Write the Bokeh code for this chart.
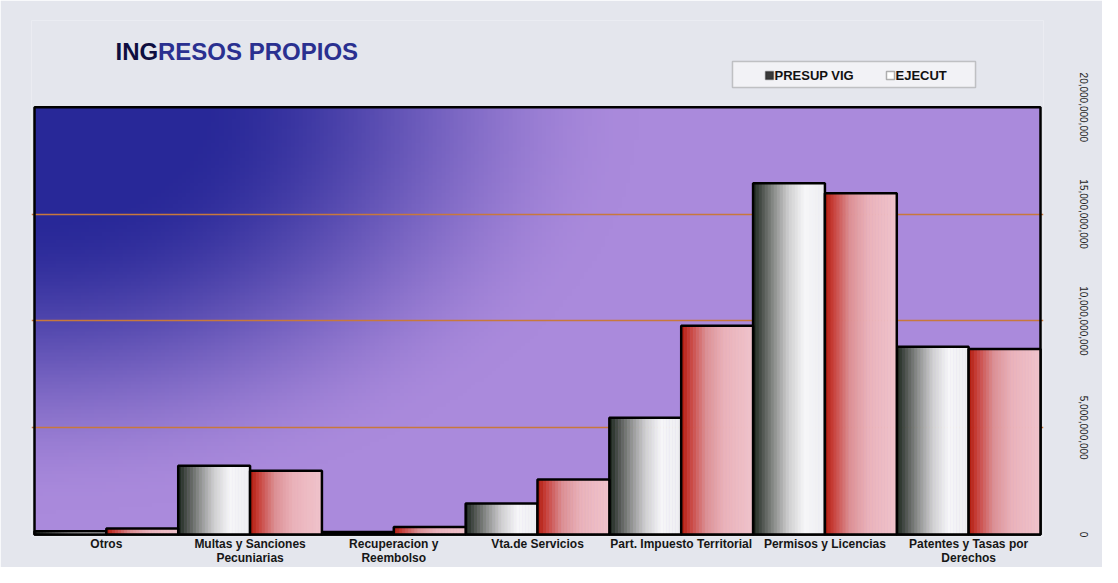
import numpy as np
from bokeh.plotting import figure
from bokeh.models import (FixedTicker, Label, BoxAnnotation,
                          ColumnDataSource, NumeralTickFormatter, Range1d)
from bokeh.embed import file_html
from bokeh.resources import INLINE

# ---------------- data ----------------
categories = ["Otros", "Multas y Sanciones\nPecuniarias", "Recuperacion y\nReembolso",
              "Vta.de Servicios", "Part. Impuesto Territorial", "Permisos y Licencias",
              "Patentes y Tasas por\nDerechos"]
presup_vig = [150e6, 3.22e9, 120e6, 1.45e9, 5.47e9, 16.45e9, 8.79e9]
ejecut = [280e6, 2.99e9, 350e6, 2.57e9, 9.77e9, 15.98e9, 8.69e9]
series_names = ["PRESUP VIG", "EJECUT"]
y_ticks = [0, 5e9, 10e9, 15e9, 20e9]
grid_ticks = [5e9, 10e9, 15e9]
title_a = "ING"
title_b = "RESOS PROPIOS"

# ---------------- layout (canvas px) ----------------
W, H = 1102, 567
BOX_L, BOX_R, BOX_T, BOX_B = 34, 1040, 107, 535   # visible plot box
PAD = 3
FR_L, FR_R, FR_T, FR_B = BOX_L - PAD, BOX_R + PAD, 20, BOX_B + 2  # bokeh frame

Y_MAX = 20e9
n = len(categories)
xpp = n / (BOX_R - BOX_L)          # data units per px (x)
ypp = Y_MAX / (BOX_B - BOX_T)      # data units per px (y)
x_lo, x_hi = -0.5, n - 0.5

p = figure(width=W, height=H, output_backend="svg", toolbar_location=None,
           x_range=Range1d(x_lo - PAD * xpp, x_hi + PAD * xpp),
           y_range=Range1d(-(FR_B - BOX_B) * ypp, Y_MAX + (BOX_T - FR_T) * ypp),
           y_axis_location="right",
           min_border_left=FR_L, min_border_right=W - FR_R,
           min_border_top=FR_T, min_border_bottom=H - FR_B)
marble = "#e4e6ed"
p.border_fill_color = marble
p.background_fill_color = marble
p.outline_line_color = None

# gradient background in the plot box (dark blue top-left -> lavender)
ny, nx = 120, 240
u = np.linspace(0, 1, nx)[None, :]
v = np.linspace(0, 1, ny)[:, None]
d = np.sqrt((u / 0.6) ** 2 + ((1 - v) / 0.95) ** 2)
t = np.clip((d - 0.25) / 0.75, 0, 1)
t = t * t * (3 - 2 * t)
dark = np.array([40, 40, 152.0])
light = np.array([170, 138, 220.0])
rgb = dark[None, None, :] + (light - dark)[None, None, :] * t[..., None]
img = np.empty((ny, nx), dtype=np.uint32)
view = img.view(dtype=np.uint8).reshape((ny, nx, 4))
view[..., :3] = rgb.astype(np.uint8)
view[..., 3] = 255
p.image_rgba(image=[img], x=x_lo, y=0, dw=x_hi - x_lo, dh=Y_MAX, level="image")

# grid
p.xgrid.visible = False
p.ygrid.ticker = FixedTicker(ticks=grid_ticks)
p.ygrid.grid_line_color = "#c8783c"
p.ygrid.grid_line_width = 1.3

# plot box outline
p.quad(left=x_lo, right=x_hi, bottom=0, top=Y_MAX, fill_color=None,
       line_color="black", line_width=2.5)

# ---------------- bars with horizontal shading ----------------
def hex2rgb(h):
    h = h.lstrip("#")
    return np.array([int(h[i:i + 2], 16) for i in (0, 2, 4)], dtype=float)

def interp(stops, tt):
    ts = [s[0] for s in stops]
    cs = [hex2rgb(s[1]) for s in stops]
    for j in range(len(ts) - 1):
        if ts[j] <= tt <= ts[j + 1]:
            f = (tt - ts[j]) / (ts[j + 1] - ts[j])
            c = cs[j] + (cs[j + 1] - cs[j]) * f
            return "#%02x%02x%02x" % tuple(int(round(x)) for x in c)
    return "#%02x%02x%02x" % tuple(int(x) for x in cs[-1])

grey_stops = [(0.0, "#18241a"), (0.12, "#4a504a"), (0.3, "#8e908e"), (0.5, "#cfcfd0"),
              (0.72, "#f6f6f8"), (1.0, "#eeeef2")]
red_stops = [(0.0, "#b01808"), (0.12, "#c8403a"), (0.35, "#dc9094"), (0.6, "#eab2ba"),
             (1.0, "#f0c4cc")]

BW = 0.5
NS = 24

def strip_source(vals, offset, stops):
    xs, tops, cols = [], [], []
    for i, val in enumerate(vals):
        for k in range(NS):
            tt = (k + 0.5) / NS
            xs.append(i + offset - BW / 2 + (k + 0.5) * BW / NS)
            tops.append(val)
            cols.append(interp(stops, tt))
    return ColumnDataSource(dict(x=xs, top=tops, c=cols))

for vals, off, stops in [(presup_vig, -0.25, grey_stops), (ejecut, 0.25, red_stops)]:
    src = strip_source(vals, off, stops)
    p.vbar(x="x", top="top", bottom=0, width=BW / NS * 1.02, source=src,
           fill_color="c", line_color="c", line_width=0.6)
    p.vbar(x=[i + off for i in range(n)], top=vals, bottom=0, width=BW,
           fill_color=None, line_color="black", line_width=2.5)

# ---------------- axes ----------------
for ax in (p.xaxis[0], p.yaxis[0]):
    ax.axis_line_color = None
    ax.major_tick_line_color = None
    ax.minor_tick_line_color = None
    ax.major_tick_out = 0
    ax.major_tick_in = 0
    ax.minor_tick_out = 0
    ax.minor_tick_in = 0

xa = p.xaxis[0]
xa.ticker = FixedTicker(ticks=list(range(n)))
xa.major_label_overrides = {i: c for i, c in enumerate(categories)}
xa.major_label_standoff = 0
xa.major_label_text_font = "Liberation Sans"
xa.major_label_text_font_style = "bold"
xa.major_label_text_font_size = "12px"
xa.major_label_text_line_height = 1.0
xa.major_label_text_color = "#161616"

ya = p.yaxis[0]
ya.ticker = FixedTicker(ticks=y_ticks)
ya.formatter = NumeralTickFormatter(format="0,0")
ya.major_label_orientation = "parallel"
ya.major_label_standoff = 36
ya.major_label_text_font = "Liberation Sans"
ya.major_label_text_font_size = "10px"
ya.major_label_text_color = "#222222"

# ---------------- title (screen units = px from frame bottom-left) ----------------
def sx(cx):
    return cx - FR_L

def sy(cy):
    return FR_B - cy

p.add_layout(Label(x=sx(115), y=sy(51.5), x_units="screen", y_units="screen", text=title_a,
                   text_font="Liberation Sans", text_font_style="bold", text_font_size="24px",
                   text_color="#0e0e40", text_baseline="middle"))
p.add_layout(Label(x=sx(115) + 42.5, y=sy(51.5), x_units="screen", y_units="screen",
                   text=title_b, text_font="Liberation Sans", text_font_style="bold",
                   text_font_size="24px", text_color="#2a3090", text_baseline="middle"))

# ---------------- legend (drawn by hand) ----------------
def sbox(l, r, t_, b, **kw):
    return BoxAnnotation(left=sx(l), right=sx(r), top=sy(t_), bottom=sy(b),
                         left_units="screen", right_units="screen", top_units="screen",
                         bottom_units="screen", level="annotation", **kw)

p.add_layout(sbox(732, 975, 62, 88, fill_color="#f3f3f6", fill_alpha=0.9,
                  line_color="#5a5a5a", line_width=1.5))
legend_entries = [
    (series_names[0], 765, "#3a3a3a"),
    (series_names[1], 886, "#ffffff"),
]
for name, gx, fc in legend_entries:
    p.add_layout(sbox(gx, gx + 8, 72, 80, fill_color=fc, fill_alpha=1.0,
                      line_color="black", line_width=1.5))
    p.add_layout(Label(x=sx(gx + 9), y=sy(75.5), x_units="screen", y_units="screen",
                       text=name, text_font="Liberation Sans", text_font_style="bold",
                       text_font_size="13px", text_color="#111111",
                       text_baseline="middle"))

open("out.html", "w").write(file_html(p, INLINE))
